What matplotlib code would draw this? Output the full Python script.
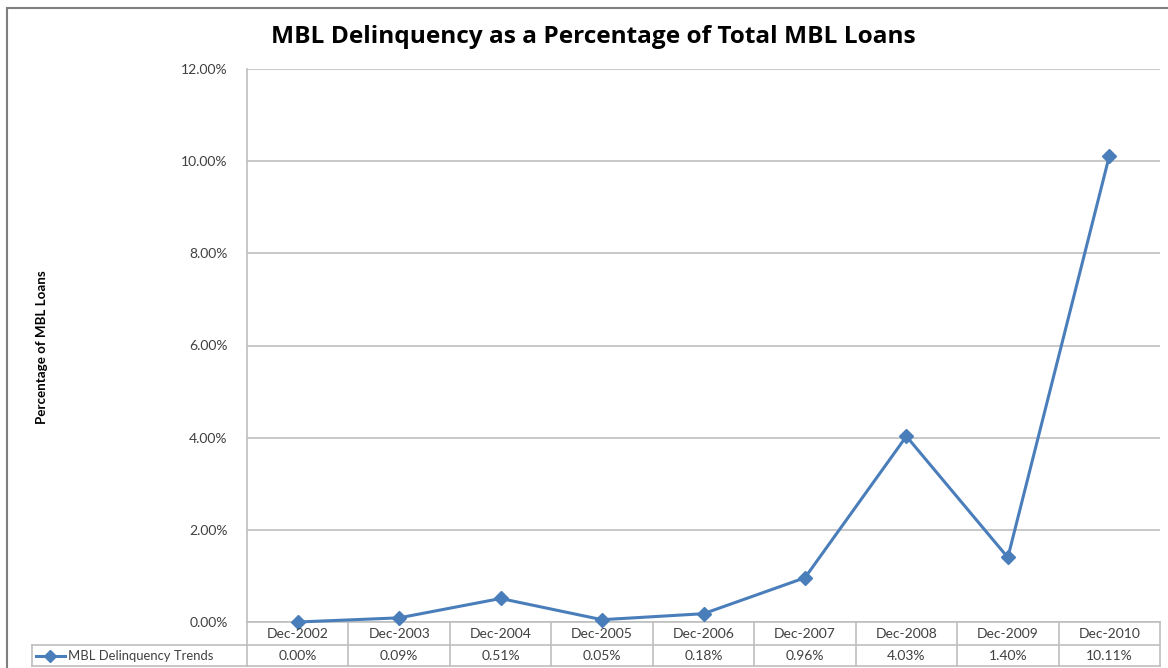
import matplotlib.pyplot as plt
from matplotlib.patches import Rectangle
from matplotlib.lines import Line2D
from matplotlib.ticker import FuncFormatter
import matplotlib.transforms as mtransforms

plt.rcParams['font.family'] = ['Lato', 'DejaVu Sans']

# delinquency series
periods = ['Dec-2002', 'Dec-2003', 'Dec-2004', 'Dec-2005', 'Dec-2006',
           'Dec-2007', 'Dec-2008', 'Dec-2009', 'Dec-2010']
delinquency = [0.00, 0.09, 0.51, 0.05, 0.18, 0.96, 4.03, 1.40, 10.11]
series_name = 'MBL Delinquency Trends'
yticks = [0, 2, 4, 6, 8, 10, 12]

blue = '#4A7EBB'
grid_c = '#BFBFBF'
text_c = '#404040'

W, H = 1168, 668
fig = plt.figure(figsize=(W / 100, H / 100), dpi=100)
ax = fig.add_axes([247 / W, 1 - 622 / H, (1160 - 247) / W, (622 - 69) / H])

x = list(range(len(periods)))
ax.plot(x, delinquency, color=blue, lw=2.2, marker='D', ms=7,
        mfc=blue, mec=blue, zorder=3, clip_on=False)

ax.set_xlim(-0.5, len(periods) - 0.5)
ax.set_ylim(0, 12)
ax.set_yticks(yticks)
ax.yaxis.set_major_formatter(FuncFormatter(lambda v, p: f'{v:.2f}%'))
ax.tick_params(axis='y', length=0, pad=14, labelsize=10, labelcolor=text_c)
ax.set_xticks([])
ax.grid(axis='y', color=grid_c, lw=1.2)
for side in ['top', 'right', 'bottom']:
    ax.spines[side].set_visible(False)
ax.spines['left'].set_color(grid_c)
ax.spines['left'].set_linewidth(1.2)

# data table under the plot
plot_h = 622 - 69
row1 = -23 / plot_h
row2 = -44 / plot_h
tr = mtransforms.blended_transform_factory(ax.transData, ax.transAxes)
tr_fig = fig.transFigure
n = len(periods)
# horizontal rules
for yy in [0, row1, row2]:
    ax.add_line(Line2D([-0.5, n - 0.5], [yy, yy], transform=tr, color=grid_c,
                       lw=1.2, clip_on=False))
for i in range(n + 1):
    ax.add_line(Line2D([i - 0.5, i - 0.5], [0, row2], transform=tr,
                       color=grid_c, lw=1.2, clip_on=False))
for i, (lab, v) in enumerate(zip(periods, delinquency)):
    ax.text(i, row1 / 2, lab, transform=tr, ha='center', va='center',
            fontsize=10, color=text_c)
    ax.text(i, (row1 + row2) / 2, f'{v:.2f}%', transform=tr, ha='center',
            va='center', fontsize=10, color=text_c)

# series header cell with legend key
y1 = 1 - 645 / H
y2 = 1 - 666 / H
fig.add_artist(Line2D([32 / W, 247 / W], [y1, y1], transform=tr_fig,
                      color=grid_c, lw=1.2))
fig.add_artist(Line2D([32 / W, 247 / W], [y2, y2], transform=tr_fig,
                      color=grid_c, lw=1.2))
fig.add_artist(Line2D([32 / W, 32 / W], [y1, y2], transform=tr_fig,
                      color=grid_c, lw=1.2))
ym = (y1 + y2) / 2
fig.add_artist(Line2D([36 / W, 65 / W], [ym, ym], transform=tr_fig,
                      color=blue, lw=2.2))
fig.add_artist(Line2D([50 / W], [ym], transform=tr_fig, color=blue,
                      marker='D', ms=6, lw=0))
fig.text(68 / W, ym, series_name, ha='left', va='center', fontsize=9.4,
         color=text_c)

# title and axis label
fig.text(593 / W, 1 - 37 / H, 'MBL Delinquency as a Percentage of Total MBL Loans',
         ha='center', va='center', fontsize=17.6, fontweight='bold', color='black',
         family='Open Sans')
fig.text(42 / W, 1 - 347 / H, 'Percentage of MBL Loans', rotation=90,
         ha='center', va='center', fontsize=9.6, fontweight='bold',
         color='black')

# outer chart frame
fig.add_artist(Rectangle((7 / W, -0.05), 1.2, 1 - 8 / H + 0.05,
                         transform=tr_fig, fill=False, ec='#7F7F7F', lw=1.5))

fig.savefig('out.png', dpi=100)
